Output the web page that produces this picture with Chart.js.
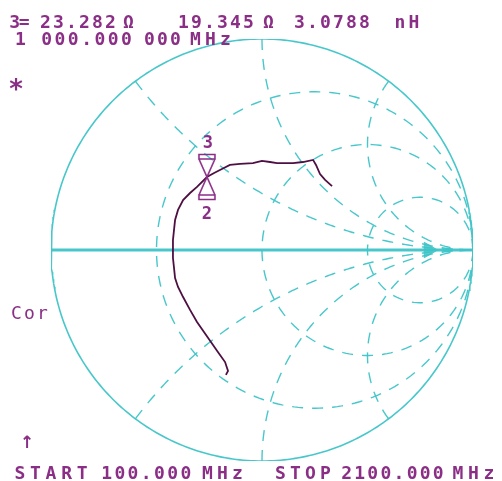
<!DOCTYPE html>
<html><head><meta charset="utf-8">
<script src="https://cdn.jsdelivr.net/npm/chart.js@4/dist/chart.umd.min.js"></script>
<style>html,body{margin:0;padding:0;background:#fff;}canvas{display:block;}</style>
</head><body>
<canvas id="c" width="502" height="481"></canvas>
<script>
// ---- data (reflection coefficient) ----
const traceRe = [-0.171,-0.161,-0.175,-0.209,-0.242,-0.275,-0.308,-0.341,-0.374,-0.398,-0.412,-0.417,-0.422,-0.422,-0.422,-0.417,-0.412,-0.398,-0.374,-0.341,-0.308,-0.261,-0.227,-0.190,-0.152,-0.104,-0.043,0.000,0.038,0.071,0.109,0.147,0.194,0.242,0.256,0.275,0.299,0.332];
const traceIm = [-0.592,-0.573,-0.531,-0.483,-0.436,-0.389,-0.341,-0.284,-0.223,-0.175,-0.133,-0.085,-0.038,0.005,0.047,0.095,0.142,0.190,0.237,0.270,0.299,0.346,0.365,0.384,0.403,0.408,0.412,0.422,0.417,0.412,0.412,0.412,0.417,0.427,0.403,0.360,0.332,0.303];
const markerRe = [-0.261];
const markerIm = [0.346];
const markerLabels = ["3","2"];
const refRe = [0.79];
const refIm = [0];
// grid values
const resistanceCircles = [1/3, 1, 3];
const reactanceArcs = [0.5, 1, 2, -0.5, -1, -2];
// texts
const headerLine1 = [["3=",10,9.5],["23.282",39,13],["Ω",122,13],["19.345",177,13],["Ω",262,13],["3.0788",293,13],["nH",393,14]];
const headerLine2 = [["1",14,13],["000.000",40,13.3],["000",143,13],["MHz",188,15]];
const footer = [["START",12,15.6],["100.000",100,13.2],["MHz",200,15],["STOP",273,15],["2100.000",340,13.1],["MHz",450,15.6]];

const CYAN = 'rgba(62,196,200,0.95)';
const PURPLE = '#8a2e86';
const TRACE = '#4e1042';

function zToGamma(r, x){
  const d = (r+1)*(r+1) + x*x;
  return {x:(r*r-1+x*x)/d, y:(2*x)/d};
}
function rCircle(r){
  const pts=[]; const N=240;
  for(let i=0;i<=N;i++){ const t=-Math.PI/2+0.0005+(Math.PI-0.001)*i/N; pts.push(zToGamma(r,Math.tan(t))); }
  return pts;
}
function xArc(x){
  const pts=[]; const N=200;
  for(let i=0;i<=N;i++){ const t=(Math.PI/2-0.0005)*i/N; pts.push(zToGamma(Math.tan(t),x)); }
  return pts;
}
function unitCircle(){
  const pts=[]; const N=360;
  for(let i=0;i<=N;i++){ const a=2*Math.PI*i/N; pts.push({x:Math.cos(a),y:Math.sin(a)}); }
  return pts;
}

// hourglass marker image
const hg = document.createElement('canvas');
hg.width=20; hg.height=48;
(function(){
  const c=hg.getContext('2d');
  c.strokeStyle=PURPLE; c.lineWidth=1.6;
  c.beginPath();
  c.rect(2,1.5,16,4.5);
  c.moveTo(2,6); c.lineTo(10,24); c.lineTo(18,6);
  c.moveTo(2,42); c.lineTo(10,24); c.lineTo(18,42);
  c.rect(2,42,16,4.5);
  c.stroke();
})();

const datasets = [];
datasets.push({data:unitCircle(), showLine:true, borderColor:CYAN, borderWidth:1.6, pointRadius:0, order:10});
datasets.push({data:[{x:-1.025,y:0},{x:1,y:0}], showLine:true, borderColor:CYAN, borderWidth:3, pointRadius:0, order:9});
resistanceCircles.forEach(r=>datasets.push({data:rCircle(r), showLine:true, borderColor:CYAN, borderWidth:1.4, borderDash:[11,9], pointRadius:0, order:11}));
reactanceArcs.forEach(x=>datasets.push({data:xArc(x), showLine:true, borderColor:CYAN, borderWidth:1.4, borderDash:[11,9], pointRadius:0, order:11}));
datasets.push({data:traceRe.map((v,i)=>({x:v,y:traceIm[i]})), showLine:true, borderColor:TRACE, borderWidth:1.8, pointRadius:0, order:1});
datasets.push({data:markerRe.map((v,i)=>({x:v,y:markerIm[i]})), showLine:false, pointStyle:hg, pointRadius:10, order:0});
datasets.push({data:refRe.map((v,i)=>({x:v,y:refIm[i]})), showLine:false, pointStyle:'triangle', rotation:90, pointRadius:9, backgroundColor:'rgba(62,196,200,0.85)', borderColor:'rgba(62,196,200,0.85)', order:2});

function drawSeg(ctx, segs, baseline){
  segs.forEach(([s,x0,p])=>{
    [...s].forEach((ch,i)=>{ ctx.fillText(ch, x0+i*p+p/2, baseline); });
  });
}

const textPlugin = {
  id:'texts',
  beforeDraw(chart){ const c=chart.ctx; c.save(); c.fillStyle='#fff'; c.fillRect(0,0,chart.width,chart.height); c.restore(); },
  afterDraw(chart){
    const c=chart.ctx; c.save();
    c.fillStyle=PURPLE; c.textAlign='center'; c.textBaseline='alphabetic';
    c.font='bold 18px "DejaVu Sans Mono"';
    drawSeg(c, headerLine1, 28);
    drawSeg(c, headerLine2, 45);
    drawSeg(c, footer, 479);
    c.font='18px "DejaVu Sans Mono"';
    drawSeg(c, [["Cor",10,13]], 319);
    c.font='bold 26px "DejaVu Sans Mono"';
    c.fillText('*', 16, 98);
    c.font='bold 17px "DejaVu Sans"';
    c.fillText('↑', 27, 448);
    // marker labels
    const xs=chart.scales.x, ys=chart.scales.y;
    const mx=xs.getPixelForValue(markerRe[0]), my=ys.getPixelForValue(markerIm[0]);
    c.font='bold 17px "DejaVu Sans Mono"';
    c.fillText(markerLabels[0], mx+1, my-29);
    c.fillText(markerLabels[1], mx, my+42);
    c.restore();
  }
};

new Chart(document.getElementById('c'), {
  type:'scatter',
  data:{datasets},
  options:{
    responsive:false, animation:false, devicePixelRatio:1,
    layout:{padding:{left:51,right:29,top:39,bottom:20}},
    scales:{
      x:{type:'linear',min:-1,max:1,display:false},
      y:{type:'linear',min:-1,max:1,display:false}
    },
    plugins:{legend:{display:false},tooltip:{enabled:false}},
    elements:{line:{tension:0}}
  },
  plugins:[textPlugin]
});
</script>
</body></html>
